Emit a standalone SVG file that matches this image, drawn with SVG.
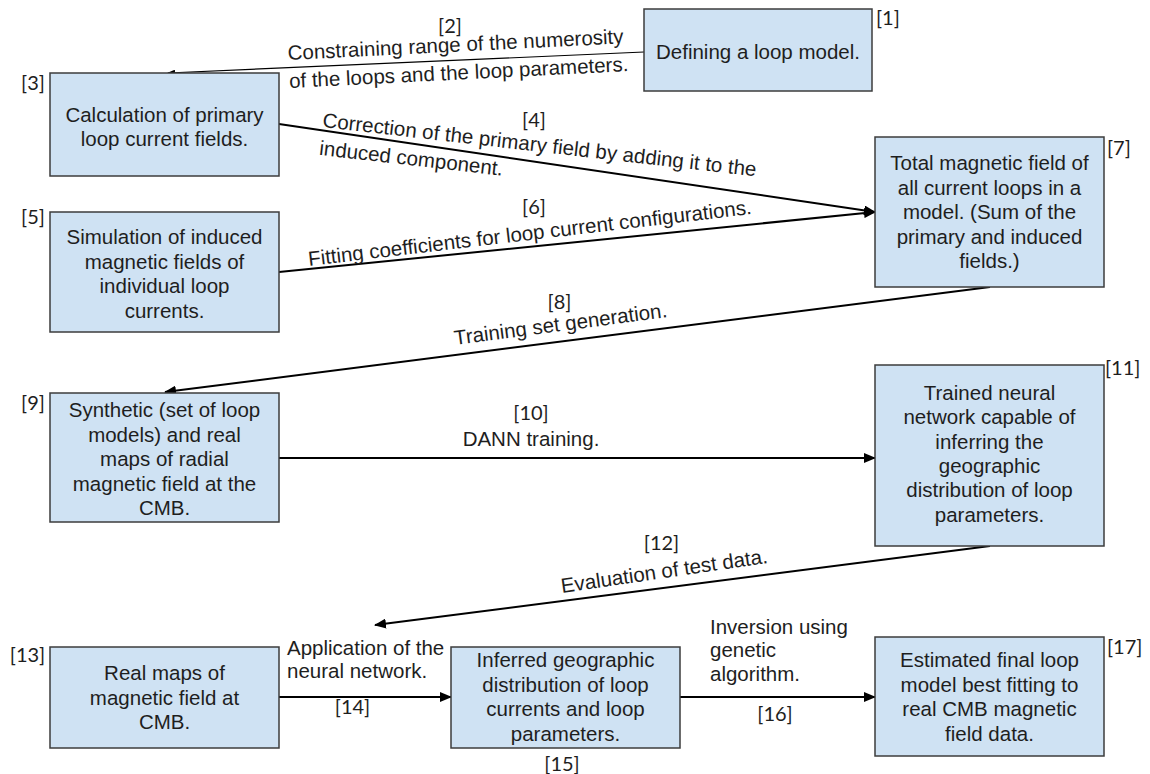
<svg xmlns="http://www.w3.org/2000/svg" width="1150" height="774" viewBox="0 0 1150 774">
  <defs>
    <marker id="arrow" viewBox="0 0 12 10" refX="11" refY="5" markerWidth="12" markerHeight="10" markerUnits="userSpaceOnUse" orient="auto">
      <path d="M0,0 L12,5 L0,10 z" fill="#000"/>
    </marker>
    <marker id="arrow-small" viewBox="0 0 8 6" refX="7" refY="3" markerWidth="8" markerHeight="6" markerUnits="userSpaceOnUse" orient="auto">
      <path d="M0,0 L8,3 L0,6 z" fill="#000"/>
    </marker>
    <style>
      .box { fill: #cfe2f3; stroke: #3c3c3c; stroke-width: 1.5; }
      .t { font-family: "Liberation Sans", Arial, sans-serif; font-size: 20.5px; fill: #1e1e1e; }
      .c { text-anchor: middle; }
      .num { font-family: Lato, "Liberation Sans", sans-serif; font-size: 20px; fill: #1e1e1e; }
      .link { fill: none; stroke: #000; stroke-width: 2; }
      .thin { fill: none; stroke: #000; stroke-width: 1.2; }
    </style>
  </defs>
  <rect width="1150" height="774" fill="#fff"/>

  <!-- connectors -->
  <g id="connectors">
    <path class="thin" d="M644,52 L168,73" marker-end="url(#arrow-small)"/>
    <path class="link" d="M279,124 L875,212" marker-end="url(#arrow)"/>
    <path class="link" d="M279,272 L875,212" marker-end="url(#arrow)"/>
    <path class="link" d="M990,287 L165,392" marker-end="url(#arrow)"/>
    <path class="link" d="M279,458 L875,458" marker-end="url(#arrow)"/>
    <path class="link" d="M990,546 L375,625" marker-end="url(#arrow)"/>
    <path class="link" d="M279,697 L451,697" marker-end="url(#arrow)"/>
    <path class="link" d="M680,697 L875,697" marker-end="url(#arrow)"/>
  </g>

  <!-- connector labels -->
  <g id="edge-labels">
    <text class="num c" x="450" y="33">[2]</text>
    <g transform="translate(288,60) rotate(-2.85)">
      <text class="t" x="0" y="0">Constraining range of the numerosity</text>
      <text class="t" x="0" y="28">of the loops and the loop parameters.</text>
    </g>

    <text class="num c" x="534" y="127">[4]</text>
    <g transform="translate(322,127) rotate(6.5)">
      <text class="t" x="0" y="0">Correction of the primary field by adding it to the</text>
      <text class="t" x="0" y="28">induced component.</text>
    </g>

    <text class="num c" x="534" y="214">[6]</text>
    <g transform="translate(309,266) rotate(-6.7)">
      <text class="t" x="0" y="0">Fitting coefficients for loop current configurations.</text>
    </g>

    <text class="num c" x="559.5" y="309">[8]</text>
    <g transform="translate(455,345) rotate(-7.5)">
      <text class="t" x="0" y="0">Training set generation.</text>
    </g>

    <text class="num c" x="531" y="420">[10]</text>
    <text class="t c" x="531" y="446">DANN training.</text>

    <text class="num c" x="661.5" y="550">[12]</text>
    <g transform="translate(562,593) rotate(-8.3)">
      <text class="t" x="0" y="0">Evaluation of test data.</text>
    </g>

    <text class="t" x="287" y="655">Application of the</text>
    <text class="t" x="287" y="678">neural network.</text>
    <text class="num c" x="352.5" y="714">[14]</text>

    <text class="t" x="710" y="634">Inversion using</text>
    <text class="t" x="710" y="657">genetic</text>
    <text class="t" x="710" y="681">algorithm.</text>
    <text class="num c" x="775" y="721">[16]</text>
  </g>

  <!-- nodes -->
  <g id="node-1">
    <rect class="box" x="644" y="9" width="228" height="82"/>
    <text class="t c" x="758" y="59">Defining a loop model.</text>
    <text class="num" x="876" y="25">[1]</text>
  </g>

  <g id="node-3">
    <rect class="box" x="50" y="73" width="229" height="103"/>
    <text class="t c" x="164.5" y="122">Calculation of primary</text>
    <text class="t c" x="164.5" y="145.5">loop current fields.</text>
    <text class="num c" x="33" y="90">[3]</text>
  </g>

  <g id="node-5">
    <rect class="box" x="50" y="212" width="229" height="120"/>
    <text class="t c" x="164.5" y="244">Simulation of induced</text>
    <text class="t c" x="164.5" y="268.5">magnetic fields of</text>
    <text class="t c" x="164.5" y="293">individual loop</text>
    <text class="t c" x="164.5" y="317.5">currents.</text>
    <text class="num c" x="33" y="224">[5]</text>
  </g>

  <g id="node-7">
    <rect class="box" x="875" y="137" width="229" height="150"/>
    <text class="t c" x="989.5" y="170">Total magnetic field of</text>
    <text class="t c" x="989.5" y="194.5">all current loops in a</text>
    <text class="t c" x="989.5" y="219">model. (Sum of the</text>
    <text class="t c" x="989.5" y="243.5">primary and induced</text>
    <text class="t c" x="989.5" y="268">fields.)</text>
    <text class="num" x="1107" y="155">[7]</text>
  </g>

  <g id="node-9">
    <rect class="box" x="50" y="393" width="229" height="129"/>
    <text class="t c" x="164.5" y="417">Synthetic (set of loop</text>
    <text class="t c" x="164.5" y="441.5">models) and real</text>
    <text class="t c" x="164.5" y="466">maps of radial</text>
    <text class="t c" x="164.5" y="490.5">magnetic field at the</text>
    <text class="t c" x="164.5" y="515">CMB.</text>
    <text class="num c" x="33" y="410">[9]</text>
  </g>

  <g id="node-11">
    <rect class="box" x="875" y="365" width="229" height="181"/>
    <text class="t c" x="989.5" y="400">Trained neural</text>
    <text class="t c" x="989.5" y="424.3">network capable of</text>
    <text class="t c" x="989.5" y="448.6">inferring the</text>
    <text class="t c" x="989.5" y="472.9">geographic</text>
    <text class="t c" x="989.5" y="497.2">distribution of loop</text>
    <text class="t c" x="989.5" y="521.5">parameters.</text>
    <text class="num" x="1105" y="375">[11]</text>
  </g>

  <g id="node-13">
    <rect class="box" x="50" y="647" width="229" height="101"/>
    <text class="t c" x="164.5" y="680">Real maps of</text>
    <text class="t c" x="164.5" y="704.5">magnetic field at</text>
    <text class="t c" x="164.5" y="729">CMB.</text>
    <text class="num c" x="27.5" y="662">[13]</text>
  </g>

  <g id="node-15">
    <rect class="box" x="451" y="647" width="229" height="101"/>
    <text class="t c" x="565.5" y="667">Inferred geographic</text>
    <text class="t c" x="565.5" y="691.5">distribution of loop</text>
    <text class="t c" x="565.5" y="716">currents and loop</text>
    <text class="t c" x="565.5" y="740.5">parameters.</text>
    <text class="num c" x="562" y="771">[15]</text>
  </g>

  <g id="node-17">
    <rect class="box" x="875" y="637" width="229" height="119"/>
    <text class="t c" x="989.5" y="667">Estimated final loop</text>
    <text class="t c" x="989.5" y="691.5">model best fitting to</text>
    <text class="t c" x="989.5" y="716">real CMB magnetic</text>
    <text class="t c" x="989.5" y="740.5">field data.</text>
    <text class="num" x="1107" y="654">[17]</text>
  </g>
</svg>
